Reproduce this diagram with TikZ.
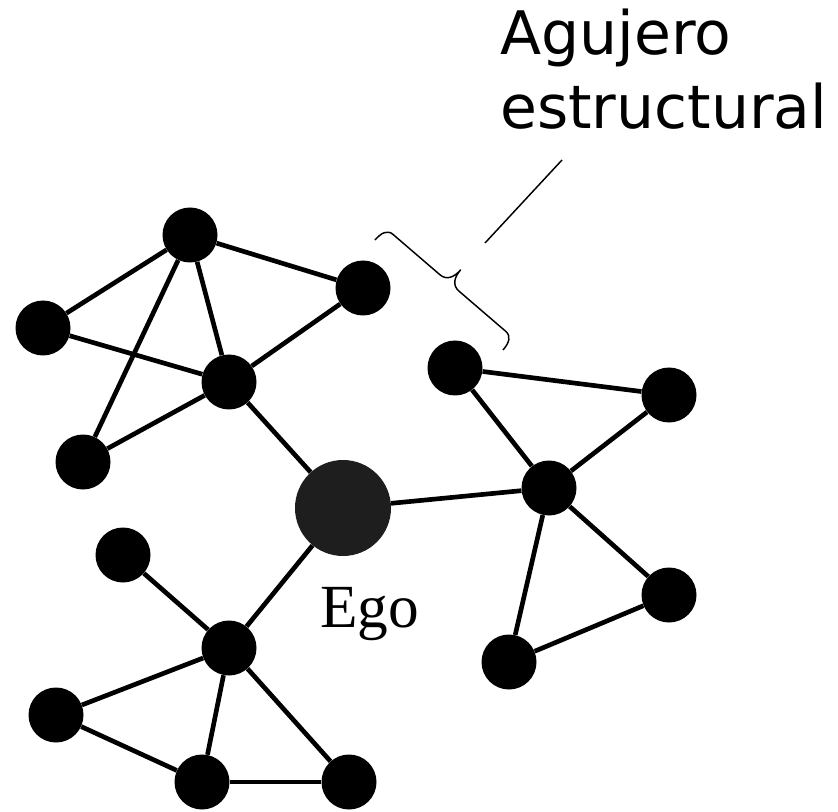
\documentclass[tikz,border=0pt]{standalone}
\usepackage{fontspec}
\setmainfont{Liberation Serif}
\newfontfamily\labelfont{DejaVu Sans}
\definecolor{egocol}{HTML}{1E1E1E}
\begin{document}
\begin{tikzpicture}[x=0.75pt,y=-0.75pt,
  dot/.style={circle,fill=black,inner sep=0pt,minimum size=41.25pt},
  egodot/.style={circle,fill=egocol,inner sep=0pt,minimum size=72pt},
  link/.style={line width=3.5pt},
  thin line/.style={line width=1.1pt},
  txt/.style={inner sep=0pt,anchor=base west}]
\useasboundingbox (0,0) rectangle (838,812);
% top-left cluster
\node[dot] (a) at (190,235) {};
\node[dot] (b) at (43,328) {};
\node[dot] (c) at (363,288) {};
\node[dot] (d) at (229,382) {};
\node[dot] (e) at (83,462) {};
% ego
\node[egodot] (ego) at (343,508) {};
% right cluster
\node[dot] (f) at (455,368) {};
\node[dot] (g) at (669,395) {};
\node[dot] (h) at (549,488) {};
\node[dot] (i) at (669,595) {};
\node[dot] (j) at (509,662) {};
% bottom cluster
\node[dot] (k) at (123,555) {};
\node[dot] (l) at (229,648) {};
\node[dot] (m) at (56,715) {};
\node[dot] (n) at (202,782) {};
\node[dot] (o) at (349,782) {};
% edges
\draw[link] (a) -- (b);
\draw[link] (a) -- (c);
\draw[link] (a) -- (d);
\draw[link] (a) -- (e);
\draw[link] (b) -- (d);
\draw[link] (c) -- (d);
\draw[link] (d) -- (e);
\draw[link] (d) -- (ego);
\draw[link] (ego) -- (h);
\draw[link] (h) -- (f);
\draw[link] (f) -- (g);
\draw[link] (g) -- (h);
\draw[link] (h) -- (i);
\draw[link] (h) -- (j);
\draw[link] (i) -- (j);
\draw[link] (ego) -- (l);
\draw[link] (k) -- (l);
\draw[link] (l) -- (m);
\draw[link] (l) -- (n);
\draw[link] (l) -- (o);
\draw[link] (m) -- (n);
\draw[link] (n) -- (o);
% labels
\node[txt,font=\fontsize{46pt}{50pt}\selectfont] (egolabel) at (320,627) {Ego};
\node[txt,font=\labelfont\fontsize{45pt}{50pt}\selectfont] (t1) at (500,55) {Agujero};
\node[txt,font=\labelfont\fontsize{45pt}{50pt}\selectfont] (t2) at (500,129) {estructural};
% brace
\draw[thin line,line join=round]
  (375,240) .. controls (381.5,232.4) and (387.7,229.8) .. (393.0,234.4)
  -- (440.0,274.8)
  .. controls (446.8,280.7) and (454.6,276.8) .. (460.5,270.0)
  .. controls (454.6,276.8) and (452.0,285.1) .. (458.8,291.0)
  -- (505.8,331.4)
  .. controls (511.1,336.0) and (509.5,342.5) .. (503,350);
% pointer
\coordinate (p1) at (485,243);
\coordinate (p2) at (562,160);
\draw[thin line] (p1) -- (p2);
\end{tikzpicture}
\end{document}
